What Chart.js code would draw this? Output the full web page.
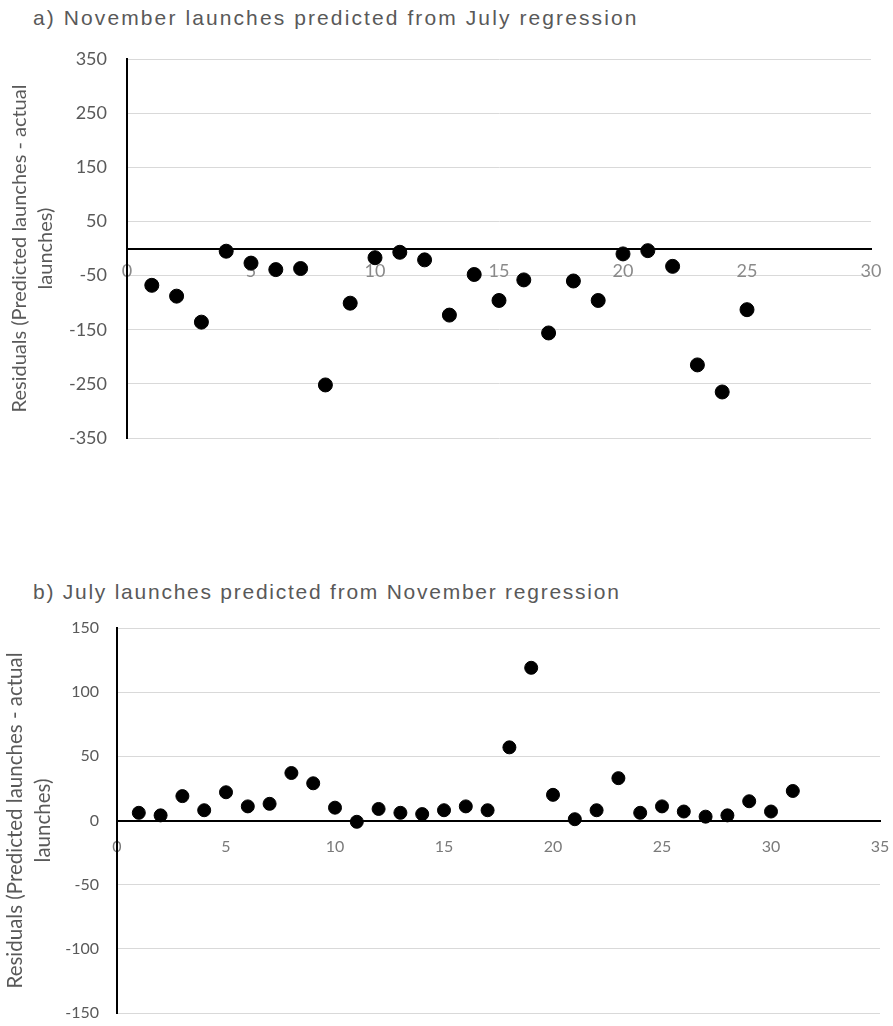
<!DOCTYPE html>
<html>
<head>
<meta charset="utf-8">
<script src="https://cdn.jsdelivr.net/npm/chart.js@4/dist/chart.umd.min.js"></script>
<style>
  body { margin: 0; background: #fff; width: 893px; height: 1026px; position: relative; overflow: hidden; }
  .title { position: absolute; left: 33px; font-family: "Liberation Sans", Arial, sans-serif; font-size: 21px; color: #595959; white-space: nowrap; line-height: 1; }
  canvas { position: absolute; left: 0; }
</style>
</head>
<body>
<div class="title" style="top: 7px; letter-spacing: 2.1px;">a) November launches predicted from July regression</div>
<canvas id="chartA" width="893" height="480" style="top: 0;"></canvas>
<div class="title" style="top: 581px; letter-spacing: 1.75px;">b) July launches predicted from November regression</div>
<canvas id="chartB" width="893" height="466" style="top: 560px;"></canvas>
<script>
// a) November launches, residuals from the July regression
const novIndex = [1, 2, 3, 4, 5, 6, 7, 8, 9, 10, 11, 12, 13, 14, 15, 16, 17, 18, 19, 20, 21, 22, 23, 24, 25];
const novResiduals = [-68, -88, -136, -5, -27, -39, -37, -252, -101, -17, -7, -21, -123, -48, -96, -58, -156, -60, -96, -10, -4, -33, -215, -265, -113];
const novYTicks = [-350, -250, -150, -50, 50, 150, 250, 350];

// b) July launches, residuals from the November regression
const julIndex = [1, 2, 3, 4, 5, 6, 7, 8, 9, 10, 11, 12, 13, 14, 15, 16, 17, 18, 19, 20, 21, 22, 23, 24, 25, 26, 27, 28, 29, 30, 31];
const julResiduals = [6, 4, 19, 8, 22, 11, 13, 37, 29, 10, -1, 9, 6, 5, 8, 11, 8, 57, 119, 20, 1, 8, 33, 6, 11, 7, 3, 4, 15, 7, 23];
const julYTicks = [-150, -100, -50, 0, 50, 100, 150];

const yTitle = ['Residuals (Predicted launches - actual', 'launches)'];

function makeScatter(id, xs, ys, yTicks, o) {
    const points = xs.map((x, i) => ({ x: x, y: ys[i] }));
    return new Chart(document.getElementById(id), {
        type: 'scatter',
        data: {
            datasets: [{
                data: points,
                backgroundColor: '#000',
                borderColor: '#000',
                pointRadius: o.radius,
                pointHoverRadius: o.radius
            }]
        },
        options: {
            responsive: false,
            animation: false,
            devicePixelRatio: 1,
            layout: { padding: o.padding },
            plugins: { legend: { display: false }, tooltip: { enabled: false } },
            scales: {
                x: {
                    type: 'linear',
                    // axis line and labels sit on y = 0
                    position: { y: 0 },
                    min: 0,
                    max: o.xMax,
                    afterFit: s => { s.height = 0; },
                    // tick marks are hidden, tickLength only spaces the labels
                    grid: { display: false, drawTicks: true, tickLength: o.xTickPad },
                    border: { color: '#000', width: 2 },
                    ticks: {
                        stepSize: 5,
                        color: o.xTickColor,
                        padding: 0,
                        maxRotation: 0,
                        font: { family: 'Lato', size: o.tickSize }
                    }
                },
                y: {
                    type: 'linear',
                    min: yTicks[0],
                    max: yTicks[yTicks.length - 1],
                    afterFit: s => { s.width = o.yWidth; },
                    afterBuildTicks: s => { s.ticks = yTicks.map(v => ({ value: v })); },
                    grid: { color: '#d9d9d9', lineWidth: 1, drawTicks: true, tickLength: o.yTickPad, tickColor: 'rgba(0,0,0,0)' },
                    border: { color: '#000', width: 2 },
                    ticks: {
                        color: '#595959',
                        padding: 0,
                        font: { family: 'Lato', size: o.tickSize }
                    },
                    title: {
                        display: true,
                        text: yTitle,
                        color: '#595959',
                        padding: { top: o.titlePad, bottom: 0 },
                        font: { family: 'Lato', size: o.titleSize, lineHeight: o.titleLine }
                    }
                }
            }
        }
    });
}

makeScatter('chartA', novIndex, novResiduals, novYTicks, {
    radius: 7, xMax: 30, yWidth: 127,
    padding: { top: 59, bottom: 42, right: 22, left: 0 },
    tickSize: 18, xTickColor: '#8a8a8a', xTickPad: 12, yTickPad: 20,
    titleSize: 20, titleLine: 1.3, titlePad: 7
});

makeScatter('chartB', julIndex, julResiduals, julYTicks, {
    radius: 6.5, xMax: 35, yWidth: 117,
    padding: { top: 68, bottom: 13, right: 13, left: 0 },
    tickSize: 16, xTickColor: '#7a7a7a', xTickPad: 17, yTickPad: 18,
    titleSize: 20.5, titleLine: 1.37, titlePad: 1
});
</script>
</body>
</html>
